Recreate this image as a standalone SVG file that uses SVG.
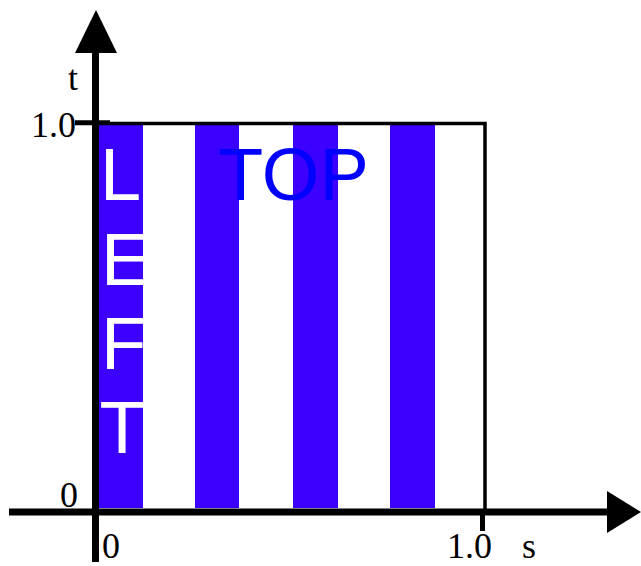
<svg xmlns="http://www.w3.org/2000/svg" width="641" height="566" viewBox="0 0 641 566">
<style>
.stripe{fill:#3c00ff}
.lbl{font-family:"Liberation Serif","Times New Roman",serif;font-size:36px;fill:#000}
.big{font-family:"Liberation Sans",Arial,sans-serif;font-size:74px}
.ax{stroke:#000;fill:none}
</style>
<rect width="641" height="566" fill="#fff"/>
<g id="square">
<rect class="stripe" x="99" y="125" width="44" height="383"/>
<rect class="stripe" x="195" y="125" width="44" height="383"/>
<rect class="stripe" x="293" y="125" width="45" height="383"/>
<rect class="stripe" x="390" y="125" width="45" height="383"/>
<path class="ax" d="M75,123.5 H485 V512" stroke-width="3.5"/>
<path class="ax" d="M75,122.5 H110" stroke-width="4.5"/>
<path class="ax" d="M482.5,512 V531" stroke-width="5"/>
</g>
<g id="labels-big">
<text class="big" x="218" y="200" fill="#0000ff">TOP</text>
<text class="big" x="100" y="200" fill="#fff">L</text>
<text class="big" x="101" y="285" fill="#fff">E</text>
<text class="big" x="101" y="369" fill="#fff">F</text>
<text class="big" x="99.5" y="453" fill="#fff">T</text>
</g>
<g id="axes">
<path class="ax" d="M95.5,562 V48" stroke-width="7"/>
<path d="M96,10 L75,53 L117,53 Z" fill="#000"/>
<path class="ax" d="M9,512 H612" stroke-width="7"/>
<path d="M641,512 L607,491 L607,533 Z" fill="#000"/>
</g>
<g id="axis-labels">
<text class="lbl" x="78" y="90" text-anchor="end">t</text>
<text class="lbl" x="76" y="137" text-anchor="end">1.0</text>
<text class="lbl" x="78" y="507" text-anchor="end">0</text>
<text class="lbl" x="102" y="558">0</text>
<text class="lbl" x="447" y="558">1.0</text>
<text class="lbl" x="522" y="558">s</text>
</g>
</svg>
